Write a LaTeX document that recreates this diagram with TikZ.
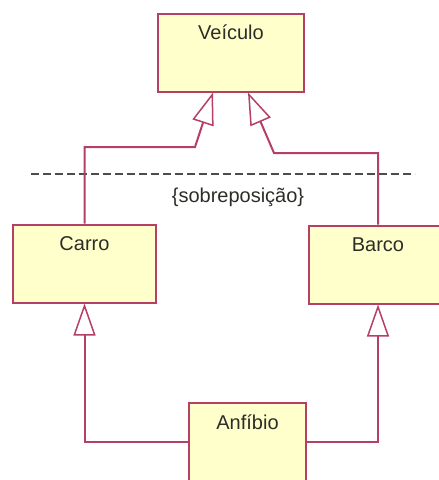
\documentclass[tikz,border=0pt]{standalone}
\usepackage{fontspec}
\setmainfont{Liberation Sans}
\usetikzlibrary{arrows.meta}
\definecolor{umlborder}{RGB}{181,63,101}
\definecolor{umlfill}{RGB}{255,255,204}
\definecolor{umltext}{RGB}{45,45,40}

\begin{document}
\begin{tikzpicture}[
        x=1pt, y=-1pt,
        classe/.style={draw=umlborder, fill=umlfill, line width=2pt, inner sep=0pt,
            text=umltext, font=\fontsize{20}{24}\selectfont,
            text height=26pt, text depth=52pt},
        heranca/.style={draw=umlborder, line width=2pt,
            -{Triangle[open, length=32pt, width=22pt, line width=1.5pt]}}
    ]
        \useasboundingbox (0,0) rectangle (439,480);
        \clip (0,0) rectangle (439,480);

        % Classes
        \node[classe, minimum width=146pt] (veiculo) at (231, 52.5) {Veículo};
        \node[classe, minimum width=143pt] (carro) at (84.5, 263.5) {Carro};
        \node[classe, minimum width=138pt] (barco) at (378, 264.5) {Barco};
        \node[classe, minimum width=117pt] (anfibio) at (247.5, 442) {Anfíbio};

        % Separator with constraint
        \draw[umltext!85, line width=1.5pt, dash pattern=on 8pt off 4pt] (31,174) -- (415,174);
        \node[text=umltext, font=\fontsize{20}{24}\selectfont] (sobre) at (238,197) {\{sobreposição\}};

        % Bend points of the upper generalizations
        \coordinate (cotoveloE) at (195,147);
        \coordinate (cotoveloD) at (274,153);
        \coordinate (vl) at ([xshift=-18pt]veiculo.south);
        \coordinate (vr) at ([xshift=17pt]veiculo.south);

        % Generalizations
        \draw[heranca] (carro.north) |- (cotoveloE) -- (vl);
        \draw[heranca] (barco.north) |- (cotoveloD) -- (vr);
        \draw[heranca] (anfibio.west) -| (carro.south);
        \draw[heranca] (anfibio.east) -| (barco.south);
    \end{tikzpicture}
\end{document}
